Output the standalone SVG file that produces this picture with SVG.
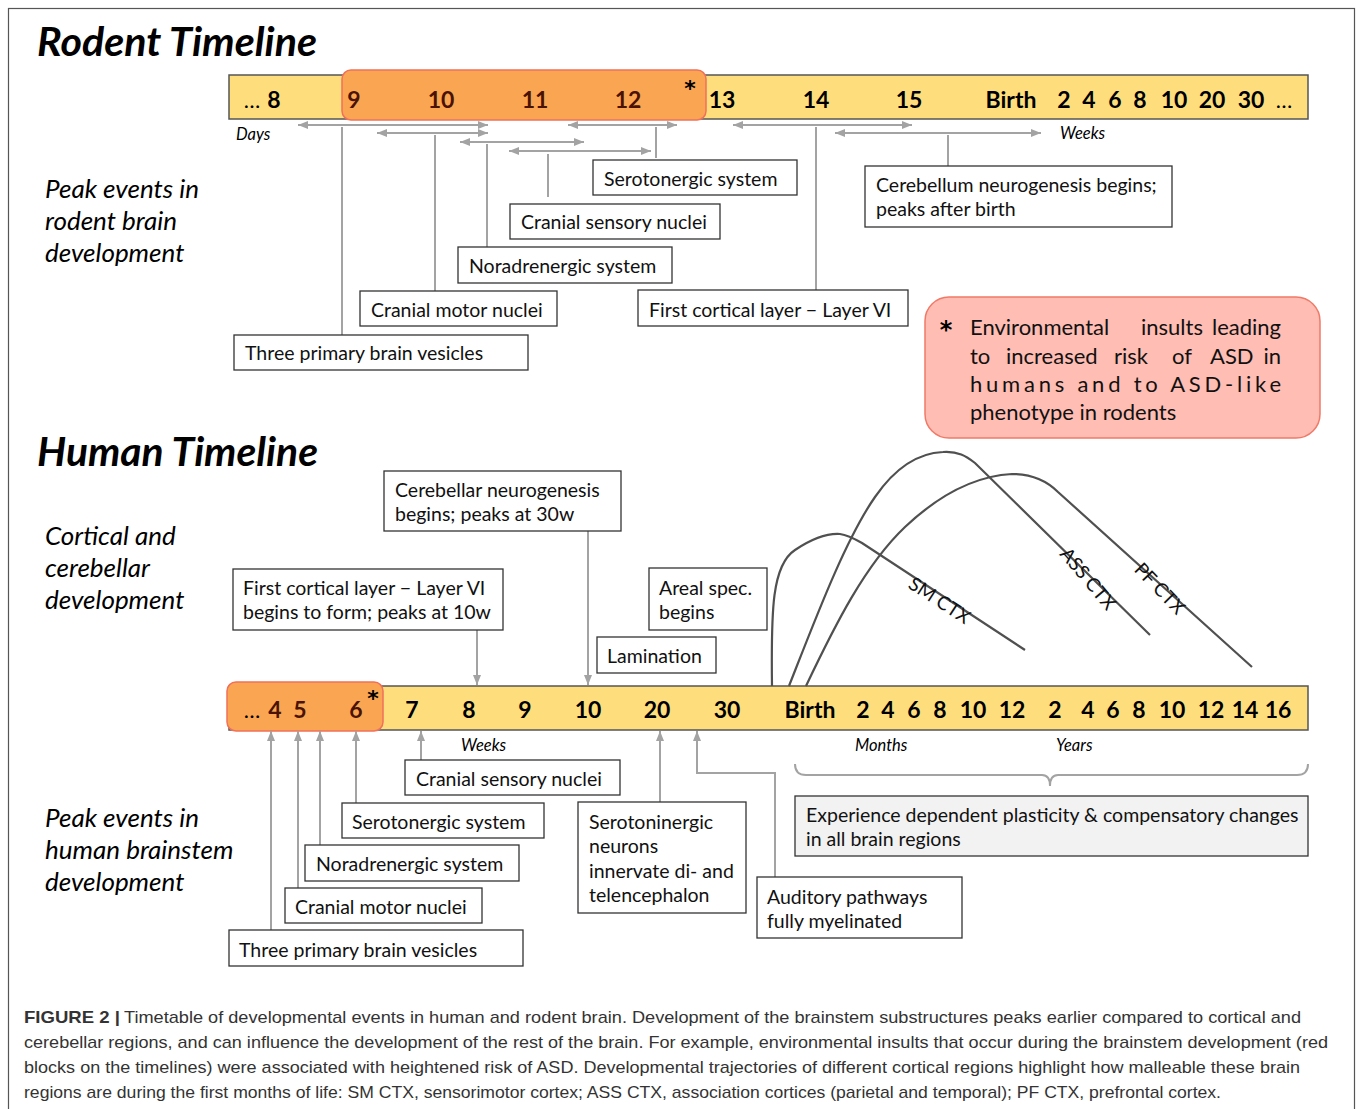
<svg xmlns="http://www.w3.org/2000/svg" width="1357" height="1109" viewBox="0 0 1357 1109">
<style>
.title{font-family:Lato,"Open Sans",sans-serif;font-weight:bold;font-style:italic;font-size:40px;fill:#000}
.side{font-family:Lato,"Open Sans",sans-serif;font-style:italic;font-size:26px;fill:#000}
.num{font-family:Lato,"Open Sans",sans-serif;font-weight:bold;font-size:23px;fill:#000;text-anchor:middle}
.numr{fill:#4a1200}
.ast{font-family:"DejaVu Sans",sans-serif;font-weight:bold;font-size:22px;fill:#000;text-anchor:middle}
.dots{font-family:Lato,"Open Sans",sans-serif;font-size:22px;fill:#000;text-anchor:middle}
.unit{font-family:Lato,"Open Sans",sans-serif;font-style:italic;font-size:16.5px;fill:#000}
.box{fill:#fff;stroke:#333;stroke-width:1.3}
.bt{font-family:Lato,"Open Sans",sans-serif;font-size:19.5px;fill:#111}
.bar{fill:#FEDE7C;stroke:#555;stroke-width:1.5}
.red{fill:#FAA552;stroke:#F0705C;stroke-width:1.5}
.con{stroke:#A3A3A3;stroke-width:2;fill:none}
.curve{stroke:#505050;stroke-width:2.2;fill:none}
.ctx{font-family:Lato,"Open Sans",sans-serif;font-size:19px;fill:#111;text-anchor:middle}
.cap{font-family:"Liberation Sans",Arial,sans-serif;font-size:17px;fill:#333}
.note{font-family:Lato,"Open Sans",sans-serif;font-size:22px;fill:#111}
</style>
<defs>
<marker id="ah" viewBox="0 0 10 8" refX="10" refY="4" markerWidth="10" markerHeight="8" markerUnits="userSpaceOnUse" orient="auto-start-reverse">
<path d="M0,0 L10,4 L0,8 z" fill="#A3A3A3"/>
</marker>
</defs>
<rect x="0" y="0" width="1357" height="1109" fill="#fff"/>
<rect x="8.5" y="8.5" width="1346" height="1120" fill="none" stroke="#555" stroke-width="1.2"/>

<!-- Titles and side labels -->
<text class="title" x="37" y="56" textLength="280" lengthAdjust="spacingAndGlyphs">Rodent Timeline</text>
<text class="title" x="37" y="466" textLength="281" lengthAdjust="spacingAndGlyphs">Human Timeline</text>
<g id="lbl-rodent-peak"><text class="side" x="45" y="198">Peak events in</text><text class="side" x="45" y="230">rodent brain</text><text class="side" x="45" y="262">development</text></g>
<g id="lbl-cortical"><text class="side" x="45" y="545">Cortical and</text><text class="side" x="45" y="577">cerebellar</text><text class="side" x="45" y="609">development</text></g>
<g id="lbl-human-peak"><text class="side" x="45" y="827">Peak events in</text><text class="side" x="45" y="859">human brainstem</text><text class="side" x="45" y="891">development</text></g>

<!-- Rodent timeline bar -->
<g id="rodent-bar">
<rect class="bar" x="229" y="75" width="1079" height="44"/>
<rect class="red" x="342" y="70" width="364" height="50" rx="9"/>
<text class="dots" x="252" y="108">…</text>
<text class="num" x="274" y="108">8</text>
<text class="num numr" x="354" y="108">9</text>
<text class="num numr" x="441" y="108">10</text>
<text class="num numr" x="535" y="108">11</text>
<text class="num numr" x="628" y="108">12</text>
<text class="ast" x="690" y="96">*</text>
<text class="num" x="722" y="108">13</text>
<text class="num" x="816" y="108">14</text>
<text class="num" x="909" y="108">15</text>
<text class="num" x="1011" y="108">Birth</text>
<text class="num" x="1064" y="108">2</text>
<text class="num" x="1089" y="108">4</text>
<text class="num" x="1115" y="108">6</text>
<text class="num" x="1140" y="108">8</text>
<text class="num" x="1174" y="108">10</text>
<text class="num" x="1212" y="108">20</text>
<text class="num" x="1251" y="108">30</text>
<text class="dots" x="1284" y="108">…</text>
</g>
<text class="unit" x="236" y="140">Days</text>
<text class="unit" x="1060" y="139">Weeks</text>

<!-- Human timeline bar -->
<g id="human-bar">
<rect class="bar" x="229" y="686" width="1079" height="44"/>
<rect class="red" x="227" y="682" width="156" height="49" rx="9"/>
<text class="dots" x="252" y="718">…</text>
<text class="num numr" x="275" y="718">4</text>
<text class="num numr" x="300" y="718">5</text>
<text class="num numr" x="356" y="718">6</text>
<text class="ast" x="373" y="706">*</text>
<text class="num" x="412" y="718">7</text>
<text class="num" x="469" y="718">8</text>
<text class="num" x="525" y="718">9</text>
<text class="num" x="588" y="718">10</text>
<text class="num" x="657" y="718">20</text>
<text class="num" x="727" y="718">30</text>
<text class="num" x="810" y="718">Birth</text>
<text class="num" x="863" y="718">2</text>
<text class="num" x="888" y="718">4</text>
<text class="num" x="914" y="718">6</text>
<text class="num" x="940" y="718">8</text>
<text class="num" x="973" y="718">10</text>
<text class="num" x="1012" y="718">12</text>
<text class="num" x="1055" y="718">2</text>
<text class="num" x="1088" y="718">4</text>
<text class="num" x="1113" y="718">6</text>
<text class="num" x="1139" y="718">8</text>
<text class="num" x="1172" y="718">10</text>
<text class="num" x="1211" y="718">12</text>
<text class="num" x="1245" y="718">14</text>
<text class="num" x="1278" y="718">16</text>
</g>
<text class="unit" x="461" y="751">Weeks</text>
<text class="unit" x="855" y="751">Months</text>
<text class="unit" x="1056" y="751">Years</text>

<!-- Connectors -->
<g id="connectors">
<line class="con" x1="298" y1="125" x2="488" y2="125" marker-start="url(#ah)" marker-end="url(#ah)"/>
<line class="con" x1="377" y1="133" x2="488" y2="133" marker-start="url(#ah)" marker-end="url(#ah)"/>
<line class="con" x1="460" y1="142" x2="584" y2="142" marker-start="url(#ah)" marker-end="url(#ah)"/>
<line class="con" x1="509" y1="151" x2="651" y2="151" marker-start="url(#ah)" marker-end="url(#ah)"/>
<line class="con" x1="568" y1="125" x2="677" y2="125" marker-start="url(#ah)" marker-end="url(#ah)"/>
<line class="con" x1="733" y1="125" x2="912" y2="125" marker-start="url(#ah)" marker-end="url(#ah)"/>
<line class="con" x1="835" y1="133" x2="1041" y2="133" marker-start="url(#ah)" marker-end="url(#ah)"/>
<line class="con" x1="342" y1="127" x2="342" y2="335"/>
<line class="con" x1="435" y1="135" x2="435" y2="291"/>
<line class="con" x1="487" y1="144" x2="487" y2="247"/>
<line class="con" x1="548" y1="154" x2="548" y2="197"/>
<line class="con" x1="656" y1="127" x2="656" y2="158"/>
<line class="con" x1="816" y1="127" x2="816" y2="290"/>
<line class="con" x1="948" y1="135" x2="948" y2="166"/>
<!-- human top -->
<line class="con" x1="477" y1="630" x2="477" y2="685" marker-end="url(#ah)"/>
<line class="con" x1="588" y1="531" x2="588" y2="685" marker-end="url(#ah)"/>
<!-- human bottom -->
<line class="con" x1="271" y1="930" x2="271" y2="731" marker-end="url(#ah)"/>
<line class="con" x1="298" y1="888" x2="298" y2="731" marker-end="url(#ah)"/>
<line class="con" x1="320" y1="845" x2="320" y2="731" marker-end="url(#ah)"/>
<line class="con" x1="356" y1="803" x2="356" y2="731" marker-end="url(#ah)"/>
<line class="con" x1="421" y1="760" x2="421" y2="731" marker-end="url(#ah)"/>
<line class="con" x1="660" y1="802" x2="660" y2="731" marker-end="url(#ah)"/>
<polyline class="con" points="775,877 775,773 697,773 697,731" marker-end="url(#ah)"/>
<path class="con" d="M795,764 Q795,775 806,775 L1042,775 Q1050,775 1050,786 Q1050,775 1058,775 L1297,775 Q1308,775 1308,764"/>
</g>

<!-- Curves -->
<g id="curves">
<path class="curve" d="M772,686 C771,610 772,565 795,550 C810,540 825,533 840,534 C848,535 855,539 862,543 L1025,650"/>
<path class="curve" d="M789,686 C815,620 845,540 875,497 C895,468 918,453 943,452 C958,451 966,456 975,463 L1150,635"/>
<path class="curve" d="M806,686 C835,625 865,565 905,527 C940,494 975,476 1012,474 C1030,474 1046,480 1058,492 L1252,667"/>
<text class="ctx" transform="translate(936,606) rotate(33)">SM CTX</text>
<text class="ctx" transform="translate(1083,583) rotate(50)">ASS CTX</text>
<text class="ctx" transform="translate(1155,593) rotate(46)">PF CTX</text>
</g>

<!-- Rodent nodes -->
<g id="r-serotonergic"><rect class="box" x="593" y="160" width="204" height="35"/><text class="bt" x="604" y="186">Serotonergic system</text></g>
<g id="r-cranial-sensory"><rect class="box" x="510" y="204" width="210" height="35"/><text class="bt" x="521" y="229">Cranial sensory nuclei</text></g>
<g id="r-noradrenergic"><rect class="box" x="458" y="247" width="214" height="36"/><text class="bt" x="469" y="273">Noradrenergic system</text></g>
<g id="r-cranial-motor"><rect class="box" x="360" y="291" width="197" height="35"/><text class="bt" x="371" y="317">Cranial motor nuclei</text></g>
<g id="r-vesicles"><rect class="box" x="234" y="335" width="294" height="35"/><text class="bt" x="245" y="360">Three primary brain vesicles</text></g>
<g id="r-cortical"><rect class="box" x="638" y="290" width="270" height="36"/><text class="bt" x="649" y="317">First cortical layer − Layer VI</text></g>
<g id="r-cerebellum"><rect class="box" x="865" y="166" width="307" height="61"/><text class="bt" x="876" y="192">Cerebellum neurogenesis begins;</text><text class="bt" x="876" y="216">peaks after birth</text></g>

<!-- Note -->
<g id="note">
<rect x="925" y="297" width="395" height="141" rx="24" fill="#FFBDB3" stroke="#F07A68" stroke-width="1.5"/>
<text class="ast" x="946" y="338" style="font-size:24px">*</text>
<text class="note" y="335"><tspan x="970">Environmental</tspan><tspan x="1141">insults</tspan><tspan x="1281" text-anchor="end">leading</tspan></text>
<text class="note" y="364"><tspan x="970">to</tspan><tspan x="1006">increased</tspan><tspan x="1114">risk</tspan><tspan x="1172">of</tspan><tspan x="1210">ASD</tspan><tspan x="1281" text-anchor="end">in</tspan></text>
<text class="note" x="970" y="392" textLength="311" lengthAdjust="spacing">humans and to ASD-like</text>
<text class="note" x="970" y="420">phenotype in rodents</text>
</g>

<!-- Human top nodes -->
<g id="h-cerebellar"><rect class="box" x="384" y="471" width="237" height="60"/><text class="bt" x="395" y="497">Cerebellar neurogenesis</text><text class="bt" x="395" y="521">begins; peaks at 30w</text></g>
<g id="h-cortical"><rect class="box" x="233" y="569" width="270" height="61"/><text class="bt" x="243" y="595">First cortical layer − Layer VI</text><text class="bt" x="243" y="619">begins to form; peaks at 10w</text></g>
<g id="h-areal"><rect class="box" x="649" y="568" width="118" height="62"/><text class="bt" x="659" y="595">Areal spec.</text><text class="bt" x="659" y="619">begins</text></g>
<g id="h-lamination"><rect class="box" x="597" y="637" width="119" height="36"/><text class="bt" x="607" y="663">Lamination</text></g>

<!-- Human bottom nodes -->
<g id="h-cranial-sensory"><rect class="box" x="405" y="760" width="215" height="35"/><text class="bt" x="416" y="786">Cranial sensory nuclei</text></g>
<g id="h-serotonergic"><rect class="box" x="342" y="803" width="202" height="35"/><text class="bt" x="352" y="829">Serotonergic system</text></g>
<g id="h-noradrenergic"><rect class="box" x="305" y="845" width="214" height="36"/><text class="bt" x="316" y="871">Noradrenergic system</text></g>
<g id="h-cranial-motor"><rect class="box" x="285" y="888" width="197" height="35"/><text class="bt" x="295" y="914">Cranial motor nuclei</text></g>
<g id="h-vesicles"><rect class="box" x="229" y="930" width="294" height="36"/><text class="bt" x="239" y="957">Three primary brain vesicles</text></g>
<g id="h-serotoninergic"><rect class="box" x="578" y="802" width="168" height="111"/><text class="bt" x="589" y="829">Serotoninergic</text><text class="bt" x="589" y="853">neurons</text><text class="bt" x="589" y="878">innervate di- and</text><text class="bt" x="589" y="902">telencephalon</text></g>
<g id="h-auditory"><rect class="box" x="757" y="877" width="205" height="61"/><text class="bt" x="767" y="904">Auditory pathways</text><text class="bt" x="767" y="928">fully myelinated</text></g>
<g id="h-experience"><rect class="box" x="795" y="796" width="513" height="60" style="fill:#F2F2F2"/><text class="bt" x="806" y="822">Experience dependent plasticity &amp; compensatory changes</text><text class="bt" x="806" y="846">in all brain regions</text></g>

<!-- Caption -->
<g id="caption">
<text class="cap" x="24" y="1023" font-weight="bold" textLength="96" lengthAdjust="spacingAndGlyphs">FIGURE 2 |</text>
<text class="cap" x="124" y="1023" textLength="1177" lengthAdjust="spacingAndGlyphs">Timetable of developmental events in human and rodent brain. Development of the brainstem substructures peaks earlier compared to cortical and</text>
<text class="cap" x="24" y="1048" textLength="1304" lengthAdjust="spacingAndGlyphs">cerebellar regions, and can influence the development of the rest of the brain. For example, environmental insults that occur during the brainstem development (red</text>
<text class="cap" x="24" y="1073" textLength="1276" lengthAdjust="spacingAndGlyphs">blocks on the timelines) were associated with heightened risk of ASD. Developmental trajectories of different cortical regions highlight how malleable these brain</text>
<text class="cap" x="24" y="1098" textLength="1197" lengthAdjust="spacingAndGlyphs">regions are during the first months of life: SM CTX, sensorimotor cortex; ASS CTX, association cortices (parietal and temporal); PF CTX, prefrontal cortex.</text>
</g>
</svg>
